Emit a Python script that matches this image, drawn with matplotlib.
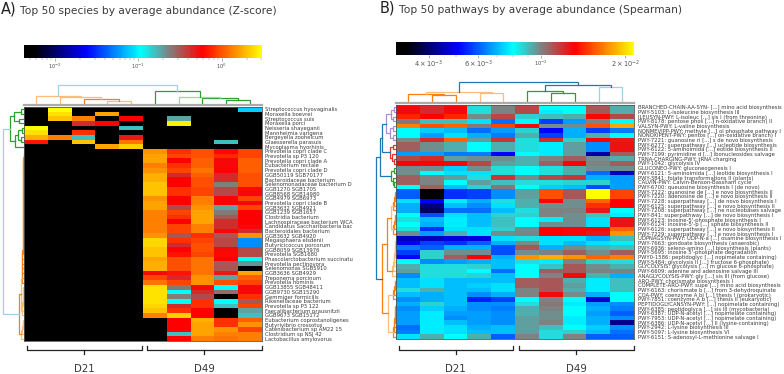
import numpy as np
import matplotlib
matplotlib.use('Agg')
import matplotlib.pyplot as plt
from matplotlib.colors import LinearSegmentedColormap, LogNorm
from matplotlib.cm import ScalarMappable

species = [
    'Streptococcus hyovaginalis', 'Moraxella boevrei', 'Streptococcus suis', 'Moraxella porci',
    'Neisseria shayeganii', 'Mannheimia varigena', 'Bergeyella zoohelcum', 'Glaesserella parasuis',
    'Mycoplasma hyorhinis', 'Prevotella copri clade C', 'Prevotella sp P3 120', 'Prevotella copri clade A',
    'Eubacterium rectale', 'Prevotella copri clade D', 'GGB50119 SGB70177', 'Bacteroidaceae bacterium',
    'Selenomonadaceae bacterium D', 'GGB1270 SGB1705', 'GGB8568 SGB14980', 'GGB4979 SGB6973',
    'Prevotella copri clade B', 'GGB3632 SGB4921', 'GGB1239 SGB1657', 'Clostridia bacterium',
    'Lachnospiraceae bacterium WCA', 'Candidatus Saccharibacteria bac', 'Bacteroidales bacterium',
    'GGB3632 SGB4920', 'Megasphaera elsdenii', 'Butyricicoccus porcorum', 'GGB8059 SGB13976',
    'Prevotella SGB1680', 'Phascolarctobacterium succinatu', 'Prevotella pectinovora', 'Selenomonas SGB5910',
    'GGB3636 SGB4929', 'Treponema porcinum', 'Prevotella hominis', 'GGB13855 SGB48411', 'GGB9730 SGB15290',
    'Gemmiger formicilis', 'Rikenellaceae bacterium', 'Prevotella sp P3 122', 'Faecalibacterium prausnitzii',
    'GGB9673 SGB15172', 'Eubacterium coprostanoligenes', 'Butyrivibrio crossotus', 'Catenibacterium sp AM22 15',
    'Clostridium sp NSJ 42', 'Lactobacillus amylovorus',
]

pathways = [
    'BRANCHED-CHAIN-AA-SYN- [...] mino acid biosynthesis', 'PWY-5103: L-isoleucine biosynthesis III',
    'ILEUSYN-PWY: L-isoleuc [...] sis I (from threonine)', 'PWY-8178: pentose phos [...] n-oxidative branch) II',
    'VALSYN-PWY: L-valine biosynthesis', 'NONMEVIPP-PWY: methyle [...] ol phosphate pathway I',
    'NONOXIPENT-PWY: pentos [...] on-oxidative branch) I', 'PWY-7221: guanosine ri [...] s de novo biosynthesis',
    'PWY-6277: superpathway [...] ucleotide biosynthesis', 'PWY-6122: 5-aminoimida [...] eotide biosynthesis II',
    'PWY-7199: pyrimidine d [...] ibonucleosides salvage', 'TRNA-CHARGING-PWY: tRNA charging',
    'PWY-1042: glycolysis IV', 'GLUCONEO-PWY: gluconeogenesis I',
    'PWY-6121: 5-aminoimida [...] leotide biosynthesis I', 'PWY-3841: folate transformations II (plants)',
    'CALVIN-PWY: Calvin-Benson-Bassham cycle', 'PWY-6700: queuosine biosynthesis I (de novo)',
    'PWY-7222: guanosine de [...] e novo biosynthesis II', 'PWY-7220: adenosine de [...] e novo biosynthesis II',
    'PWY-7228: superpathway [...] de novo biosynthesis I', 'PWY-6125: superpathway [...] e novo biosynthesis II',
    'PWY-7208: superpathway [...] ne nucleobases salvage', 'PWY-841: superpathway [...] de novo biosynthesis I',
    "PWY-6123: inosine-5'-phosphate biosynthesis I", "PWY-6124: inosine-5'-p [...] sphate biosynthesis II",
    'PWY-6126: superpathway [...] e novo biosynthesis II', 'PWY-7229: superpathway [...] e novo biosynthesis I',
    'UDPNAGSYN-PWY: UDP-N-a [...] osamine biosynthesis I', 'PWY-7663: gondoate biosynthesis (anaerobic)',
    'PWY-6936: seleno-amino [...] biosynthesis (plants)', "PWY-5695: inosine 5'-phosphate degradation",
    'PWY0-1586: peptidoglyc [...] nopimelate containing)', 'PWY-5484: glycolysis II [...] fructose 6-phosphate)',
    'GLYCOLYSIS: glycolysis [...] m glucose 6-phosphate)', 'PWY-6609: adenine and adenosine salvage III',
    'ANAGLYCOLYSIS-PWY: gly [...] sis III (from glucose)', 'ARO-PWY: chorismate biosynthesis I',
    'COMPLETE-ARO-PWY: supe [...] mino acid biosynthesis', 'PWY-6163: chorismate b [...] from 3-dehydroquinate',
    'COA-PWY: coenzyme A bi [...] thesis I (prokaryotic)', 'PWY-7851: coenzyme A b [...] thesis II (eukaryotic)',
    'PEPTIDOGLYCANSYN-PWY: [...] nopimelate containing)', 'PWY-6385: peptidoglyca [...] sis III (mycobacteria)',
    'PWY-6387: UDP-N-acetyl [...] nopimelate containing)', 'PWY-7953: UDP-N-acetyl [...] nopimelate containing)',
    'PWY-6386: UDP-N-acetyl [...] II (lysine-containing)', 'PWY-2942: L-lysine biosynthesis III',
    'PWY-5097: L-lysine biosynthesis VI', 'PWY-6151: S-adenosyl-L-methionine salvage I',
]

species_values = [
    [0, 3.05, 0, 0, 0, 0, 0, 0, 0, .08],
    [0, 2.5, 0, 1.65, 0, 0, 0, 0, 0, 0],
    [0, 2.03, 1.34, 0, .589, 0, .19, 0, 0, 0],
    [0, 0, .424, .589, 0, 0, 2.7, 0, 0, 0],
    [3.05, 0, 0, 0, .158, 0, 0, 0, 0, 0],
    [2.5, 0, .80, 0, 0, 0, 0, 0, 0, 0],
    [1.82, 1.34, .158, 0, .483, 0, 0, 0, 0, 0],
    [.654, 0, 2.03, 0, 1.21, 0, 0, 0, .158, 0],
    [0, 0, 0, 1.65, 2.2, 0, 0, 0, 0, 0],
    [0, 0, 0, 0, 0, 1.49, .80, .98, .62, .89],
    [0, 0, 0, 0, 0, 1.65, .89, .98, .75, .89],
    [0, 0, 0, 0, 0, 1.65, .589, 1.09, .551, 1.09],
    [0, 0, 0, 0, 0, 1.34, .80, 1.09, .551, 1.09],
    [0, 0, 0, 0, 0, 1.49, .89, 1.21, .60, 1.09],
    [0, 0, 0, 0, 0, 1.82, .424, 1.09, .424, .98],
    [0, 0, 0, 0, 0, 1.82, .589, .98, .424, .98],
    [0, 0, 0, 0, 0, 2.03, .589, .98, .234, .98],
    [0, 0, 0, 0, 0, 2.03, .80, .89, .348, .62],
    [0, 0, 0, 0, 0, 2.03, .80, .89, .348, .551],
    [0, 0, 0, 0, 0, 1.49, .589, 1.34, .589, .89],
    [0, 0, 0, 0, 0, 1.65, .589, 1.34, .589, .551],
    [0, 0, 0, 0, 0, 1.65, .348, 1.49, .19, .89],
    [0, 0, 0, 0, 0, 1.34, .89, 1.65, .25, .589],
    [0, 0, 0, 0, 0, 1.34, .80, 1.65, .315, .589],
    [0, 0, 0, 0, 0, 1.34, .589, 1.65, .424, .589],
    [0, 0, 0, 0, 0, 1.34, .89, 1.34, .424, .551],
    [0, 0, 0, 0, 0, 1.34, .89, 1.34, .551, .424],
    [0, 0, 0, 0, 0, 1.49, .315, .80, .315, 1.49],
    [0, 0, 0, 0, 0, 2.34, .80, .89, .348, .055],
    [0, 0, 0, 0, 0, 2.34, .424, .98, .348, .055],
    [0, 0, 0, 0, 0, 2.03, .589, .98, .551, .348],
    [0, 0, 0, 0, 0, 2.03, .654, .89, .62, .348],
    [0, 0, 0, 0, 0, 1.65, .98, 1.21, .589, .107],
    [0, 0, 0, 0, 0, 1.82, .98, 1.21, .315, .21],
    [0, 0, 0, 0, 0, 1.82, .98, 1.21, .315, 0],
    [0, 0, 0, 0, 0, .551, .654, 1.21, .483, 1.65],
    [0, 0, 0, 0, 0, .89, .424, 1.49, .19, 1.09],
    [0, 0, 0, 0, 0, 1.21, .89, 1.49, .98, .89],
    [0, 0, 0, 0, 0, 2.5, .25, .551, .107, .551],
    [0, 0, 0, 0, 0, 2.5, .107, .424, .27, .551],
    [0, 0, 0, 0, 0, 2.5, .234, .348, 0, .80],
    [0, 0, 0, 0, 0, 2.5, .107, .80, .107, .315],
    [0, 0, 0, 0, 0, 2.34, .424, .80, .158, .89],
    [0, 0, 0, 0, 0, 2.03, .80, .589, 0, .19],
    [0, 0, 0, 0, 0, 1.34, 2.2, .589, 0, .158],
    [0, 0, 0, 0, 0, 0, .589, 1.82, .80, 1.09],
    [0, 0, 0, 0, 0, 0, .589, 1.65, .80, 1.49],
    [0, 0, 0, 0, 0, 0, .589, 1.65, 1.49, .89],
    [0, 0, 0, 0, 0, 0, .158, 1.65, 1.34, 1.34],
    [0, 0, 0, 0, 0, 0, .589, 1.34, 1.21, 1.34],
]

# units of 1e-3
pathway_values = [
    [12.97, 11.99, 12.97, 8.46, 10.06, 11.32, 7.97, 7.97, 11.0, 9.22],
    [12.97, 11.99, 12.97, 8.46, 10.06, 11.32, 7.76, 7.97, 11.0, 9.22],
    [14.07, 13.23, 14.07, 9.78, 11.32, 8.70, 8.96, 9.22, 12.97, 11.32],
    [10.28, 8.96, 8.96, 7.55, 6.20, 7.97, 5.70, 6.74, 10.06, 7.97],
    [16.87, 15.38, 15.89, 10.28, 14.96, 12.97, 9.78, 9.78, 15.38, 17.95],
    [7.97, 7.35, 7.13, 6.20, 6.74, 8.70, 5.09, 6.95, 5.70, 6.37],
    [7.97, 6.74, 7.55, 6.95, 6.37, 9.22, 5.70, 6.95, 9.22, 7.97],
    [9.78, 11.99, 15.89, 9.50, 11.77, 8.46, 11.99, 8.70, 13.23, 12.47],
    [10.79, 9.78, 9.22, 7.97, 9.22, 8.46, 7.76, 9.50, 6.56, 12.73],
    [10.79, 9.78, 9.22, 7.97, 9.22, 8.46, 7.76, 9.50, 6.56, 12.73],
    [6.74, 6.74, 6.37, 6.37, 5.09, 7.97, 7.76, 9.50, 4.35, 10.79],
    [11.32, 11.99, 9.50, 9.78, 9.78, 9.22, 10.06, 10.79, 9.78, 9.22],
    [13.23, 13.23, 12.97, 11.32, 9.50, 9.22, 10.79, 13.23, 10.06, 10.79],
    [9.78, 9.78, 7.35, 9.78, 8.46, 7.97, 8.46, 9.22, 9.78, 9.78],
    [9.78, 7.97, 7.55, 7.55, 8.46, 7.97, 8.46, 9.22, 6.20, 4.58],
    [10.79, 10.06, 9.50, 8.46, 11.77, 9.78, 11.32, 11.77, 6.95, 6.74],
    [10.79, 10.06, 7.97, 9.50, 8.96, 8.46, 8.46, 8.70, 8.70, 6.74],
    [7.97, 10.79, 7.13, 8.70, 10.28, 7.97, 7.35, 7.13, 5.86, 6.74],
    [6.03, 3.1, 5.54, 5.70, 6.56, 9.50, 15.38, 11.0, 21.5, 14.96],
    [6.03, 3.1, 5.54, 5.70, 6.56, 9.50, 15.38, 11.0, 21.5, 14.96],
    [7.55, 5.09, 7.76, 6.95, 8.46, 9.22, 12.97, 9.78, 15.89, 13.23],
    [6.95, 4.11, 7.13, 6.56, 7.55, 9.22, 9.78, 9.78, 14.49, 13.23],
    [6.95, 3.90, 6.20, 6.20, 7.13, 8.46, 10.06, 10.06, 12.47, 7.97],
    [7.97, 5.86, 7.55, 7.13, 8.70, 8.70, 10.06, 9.78, 8.96, 7.76],
    [8.46, 7.13, 7.76, 7.13, 8.96, 7.97, 7.76, 9.78, 7.55, 12.73],
    [7.97, 6.95, 7.76, 7.13, 8.96, 7.97, 9.78, 9.78, 7.55, 12.73],
    [8.46, 5.54, 7.55, 7.55, 8.70, 9.78, 13.23, 12.97, 12.97, 15.89],
    [9.78, 6.74, 9.22, 7.55, 9.78, 10.06, 13.23, 12.97, 12.47, 17.42],
    [4.58, 4.58, 4.83, 4.83, 7.55, 8.46, 7.55, 7.55, 6.95, 8.96],
    [5.09, 5.70, 5.54, 6.03, 6.95, 9.78, 7.55, 7.13, 7.55, 7.76],
    [6.37, 6.03, 6.95, 6.95, 5.86, 11.0, 6.95, 9.78, 9.22, 8.96],
    [5.70, 8.70, 9.78, 9.78, 5.86, 9.78, 10.06, 10.79, 9.78, 10.79],
    [5.09, 8.70, 10.79, 13.23, 6.95, 17.42, 18.49, 17.42, 15.89, 16.87],
    [7.97, 6.56, 6.74, 6.95, 7.13, 8.46, 7.76, 10.06, 8.70, 8.46],
    [9.22, 8.46, 8.46, 8.70, 7.13, 7.97, 8.96, 11.0, 9.78, 9.22],
    [9.50, 8.46, 8.46, 7.97, 6.20, 7.97, 10.79, 11.0, 10.06, 10.06],
    [6.56, 8.46, 8.46, 8.70, 7.13, 7.97, 10.06, 12.97, 9.22, 6.95],
    [7.13, 7.55, 7.13, 7.13, 7.13, 10.79, 11.0, 9.22, 7.76, 8.96],
    [7.13, 7.55, 7.13, 7.35, 7.55, 10.79, 11.0, 9.50, 7.76, 8.96],
    [8.46, 9.22, 7.13, 7.13, 7.55, 10.06, 11.0, 9.22, 7.76, 8.96],
    [7.13, 6.95, 7.13, 6.56, 6.95, 10.06, 12.97, 9.78, 6.95, 7.97],
    [6.56, 6.95, 7.13, 5.39, 5.70, 7.97, 10.06, 7.97, 4.71, 7.97],
    [6.95, 8.70, 7.13, 6.56, 6.56, 8.46, 10.28, 7.76, 6.74, 6.56],
    [6.56, 7.35, 6.95, 6.56, 6.37, 9.22, 10.06, 7.97, 6.95, 6.37],
    [6.74, 7.76, 6.74, 6.74, 6.56, 9.22, 9.78, 7.97, 6.74, 6.03],
    [6.74, 7.76, 6.56, 6.74, 6.56, 9.50, 9.78, 7.76, 6.95, 6.56],
    [6.74, 7.76, 7.13, 6.74, 6.56, 9.50, 10.06, 7.76, 6.95, 4.20],
    [6.20, 7.76, 7.55, 6.95, 7.13, 9.50, 8.96, 7.97, 7.35, 6.56],
    [6.37, 7.76, 7.55, 7.13, 7.13, 9.50, 8.46, 8.70, 7.13, 6.20],
    [7.55, 9.22, 7.97, 9.22, 6.03, 10.06, 8.46, 10.06, 6.03, 6.03],
]

OR, LO = '#ff7f0e', '#ffbb78'
GR, LG = '#2ca02c', '#98df8a'
BL, LB = '#1f77b4', '#a6cee3'
PU, RE = '#b08bd8', '#e8302a'


def chain(rows, depths, color):
    node = rows[0]
    for row, depth in zip(rows[1:], depths):
        node = (depth, color, node, row)
    return node


# dendrograms: (height, colour, child, child), ints are leaf positions
species_top = (20.3, LB,
               (9.3, LO, 0, (7.7, LO, 1, (6, OR, 2, (4.3, LO, 3, 4)))),
               (13.7, GR, 5, (8.3, LG, 6, (6.7, GR, 7, (5.3, GR, 8, 9)))))
species_left = (21, LB,
                (14, GR,
                 (10, GR, (3, GR, 0, 1), (5, GR, 2, 3)),
                 (9, GR, (6, GR, (2, GR, 4, 5), (3, GR, 6, 7)), 8)),
                (5, OR,
                 (3.5, LO,
                  chain(list(range(9, 38)), [.5, .5, .6, .6, .7, .7, .8, .8, .9, .9, 1, 1, 1.1, 1.1, 1.2, 1.2,
                                             1.3, 1.3, 1.4, 1.4, 1.5, 1.5, 1.6, 1.7, 1.8, 1.9, 2, 2.2], OR),
                  chain(list(range(38, 45)), [.8, 1, 1.2, 1.5, 1.8, 2.4], LO)),
                 chain(list(range(45, 50)), [1, 1.5, 2, 3], LO)))
pathway_top = (20.7, BL,
               (11, LO, (9, OR, 0, (8, OR, 1, 2)), (9.7, LO, 3, 4)),
               (17.7, BL, (12.3, GR, 5, (10, GR, 6, 7)), (15.7, LB, 8, 9)))
pathway_left = (20.6, BL,
                (16.3, BL,
                 (14, BL,
                  (10, PU, (5, PU, (2, PU, 0, 1), (3, PU, 2, 3)), (6, PU, (3, PU, 4, 5), (3, PU, 6, 7))),
                  (6, RE, (3, RE, 8, 9), (4, RE, 10, (2, RE, 11, 12)))),
                 (5, GR, (2, GR, 13, 14), (3, GR, 15, (2, GR, 16, 17)))),
                (14, OR,
                 (9.7, OR,
                  (5, LO, chain([18, 19, 20, 21, 22], [1, 1.5, 2, 3], OR),
                   chain([23, 24, 25, 26, 27], [1, 1.5, 2, 3], OR)),
                  chain([28, 29, 30, 31, 32, 33, 34, 35, 36], [.8, 1, 1.3, 1.6, 2, 2.5, 3, 4], LO)),
                 (8, LO, chain([37, 38, 39, 40, 41], [1, 1.5, 2, 3], OR),
                  chain([42, 43, 44, 45, 46, 47, 48, 49], [.7, 1, 1.3, 1.6, 2, 2.6, 3.2], OR))))

heat_cmap = LinearSegmentedColormap.from_list('heat', [
    (0.0, '#000000'), (0.04, '#000000'), (0.26, '#0000ff'), (0.49, '#00ffff'),
    (0.61, '#808080'), (0.75, '#ff0000'), (1.0, '#ffff00')])
heat_cmap.set_bad('black')

plt.rcParams['font.family'] = 'DejaVu Sans'
W, H = 784, 374
TEXT = '#3a3a3a'
fig = plt.figure(figsize=(W / 100, H / 100), dpi=100)


def px_axes(x0, y0, x1, y1):
    return fig.add_axes([x0 / W, 1 - y1 / H, (x1 - x0) / W, (y1 - y0) / H])


def draw_tree(ax, node, horizontal):
    if isinstance(node, int):
        return node + 0.5, 0
    height, color, a, b = node
    pa, ha = draw_tree(ax, a, horizontal)
    pb, hb = draw_tree(ax, b, horizontal)
    xs, ys = [pa, pa, pb, pb], [ha, height, height, hb]
    if horizontal:
        ax.plot(ys, xs, color=color, lw=0.9, solid_joinstyle='miter')
    else:
        ax.plot(xs, ys, color=color, lw=0.9, solid_joinstyle='miter')
    return (pa + pb) / 2, height


def bracket(x0, x1, label):
    ax = fig.add_axes([0, 0, 1, 1], facecolor='none')
    ax.set_xlim(0, W)
    ax.set_ylim(H, 0)
    ax.axis('off')
    mid = (x0 + x1) / 2
    ax.plot([x0, x0, x1, x1], [346, 350, 350, 346], color='#222222', lw=0.9)
    ax.plot([mid, mid], [350, 354], color='#222222', lw=0.9)
    ax.text(mid, 369, label, ha='center', va='center', fontsize=7.4, color=TEXT)


def panel(x0, y0, values, labels, vmin, vmax, top_tree, left_tree, label_x, bar_y, ticks, tick_labels, tick_size):
    x1, y1 = x0 + 238, y0 + 234
    norm = LogNorm(vmin=vmin, vmax=vmax, clip=True)
    data = np.ma.masked_less_equal(np.array(values, dtype=float), 0)

    ax = px_axes(x0, y0, x1, y1)
    ax.imshow(data, cmap=heat_cmap, norm=norm, aspect='auto', interpolation='nearest')
    ax.set_xticks([])
    ax.yaxis.tick_right()
    ax.set_yticks(range(len(labels)))
    ax.set_yticklabels(labels, fontsize=3.8, color=TEXT)
    ax.tick_params(axis='y', length=0, pad=label_x - x1)
    for spine in ax.spines.values():
        spine.set_color('#555555')
        spine.set_linewidth(0.6)

    top = px_axes(x0, y0 - 24, x1, y0 - 2)
    top.set_xlim(0, 10)
    top.set_ylim(0, 22)
    top.axis('off')
    draw_tree(top, top_tree, False)
    top.plot([0, 10], [0, 0], color='#aaaaaa', lw=1.6, clip_on=False)

    left = px_axes(x0 - 22, y0, x0, y1)
    left.set_xlim(22, 0)
    left.set_ylim(len(labels), 0)
    left.axis('off')
    draw_tree(left, left_tree, True)

    cax = px_axes(x0, bar_y, x1, bar_y + 13)
    cbar = fig.colorbar(ScalarMappable(norm=norm, cmap=heat_cmap), cax=cax, orientation='horizontal')
    cbar.outline.set_visible(False)
    cbar.set_ticks(ticks)
    cbar.set_ticklabels(tick_labels)
    for tl, size in zip(cax.get_xticklabels(), tick_size):
        tl.set_fontsize(size)
        tl.set_color('#555555')
    cax.tick_params(axis='x', which='major', length=2, width=0.4, color='#777777', pad=0.8)
    cax.tick_params(axis='x', which='minor', length=1.2, width=0.3, color='#777777', labelbottom=False)


panel(24, 107, species_values, species, 0.00425, 3.05, species_top, species_left, 264, 45,
      [0.01, 0.1, 1], ['$10^{-2}$', '$10^{-1}$', '$10^{0}$'], [3.8, 3.8, 3.8])
panel(396.3, 105, np.array(pathway_values) * 1e-3, pathways, 0.00307, 0.02153, pathway_top, pathway_left, 637, 42,
      [0.004, 0.006, 0.01, 0.02], [r'$4\times10^{-3}$', r'$6\times10^{-3}$', '$10^{-2}$', r'$2\times10^{-2}$'],
      [4.8, 4.8, 3.8, 4.8])

bracket(26.7, 141.7, 'D21')
bracket(147, 262, 'D49')
bracket(398.7, 513, 'D21')
bracket(518.7, 633.7, 'D49')

fig.text(1 / W, 1 - 9 / H, 'A)', fontsize=10.5, color='#222222', va='center')
fig.text(20 / W, 1 - 11 / H, 'Top 50 species by average abundance (Z-score)', fontsize=7.7, color=TEXT, va='center')
fig.text(380 / W, 1 - 8 / H, 'B)', fontsize=10.5, color='#222222', va='center')
fig.text(399 / W, 1 - 10 / H, 'Top 50 pathways by average abundance (Spearman)', fontsize=7.7, color=TEXT, va='center')

fig.savefig('out.png', dpi=100)
